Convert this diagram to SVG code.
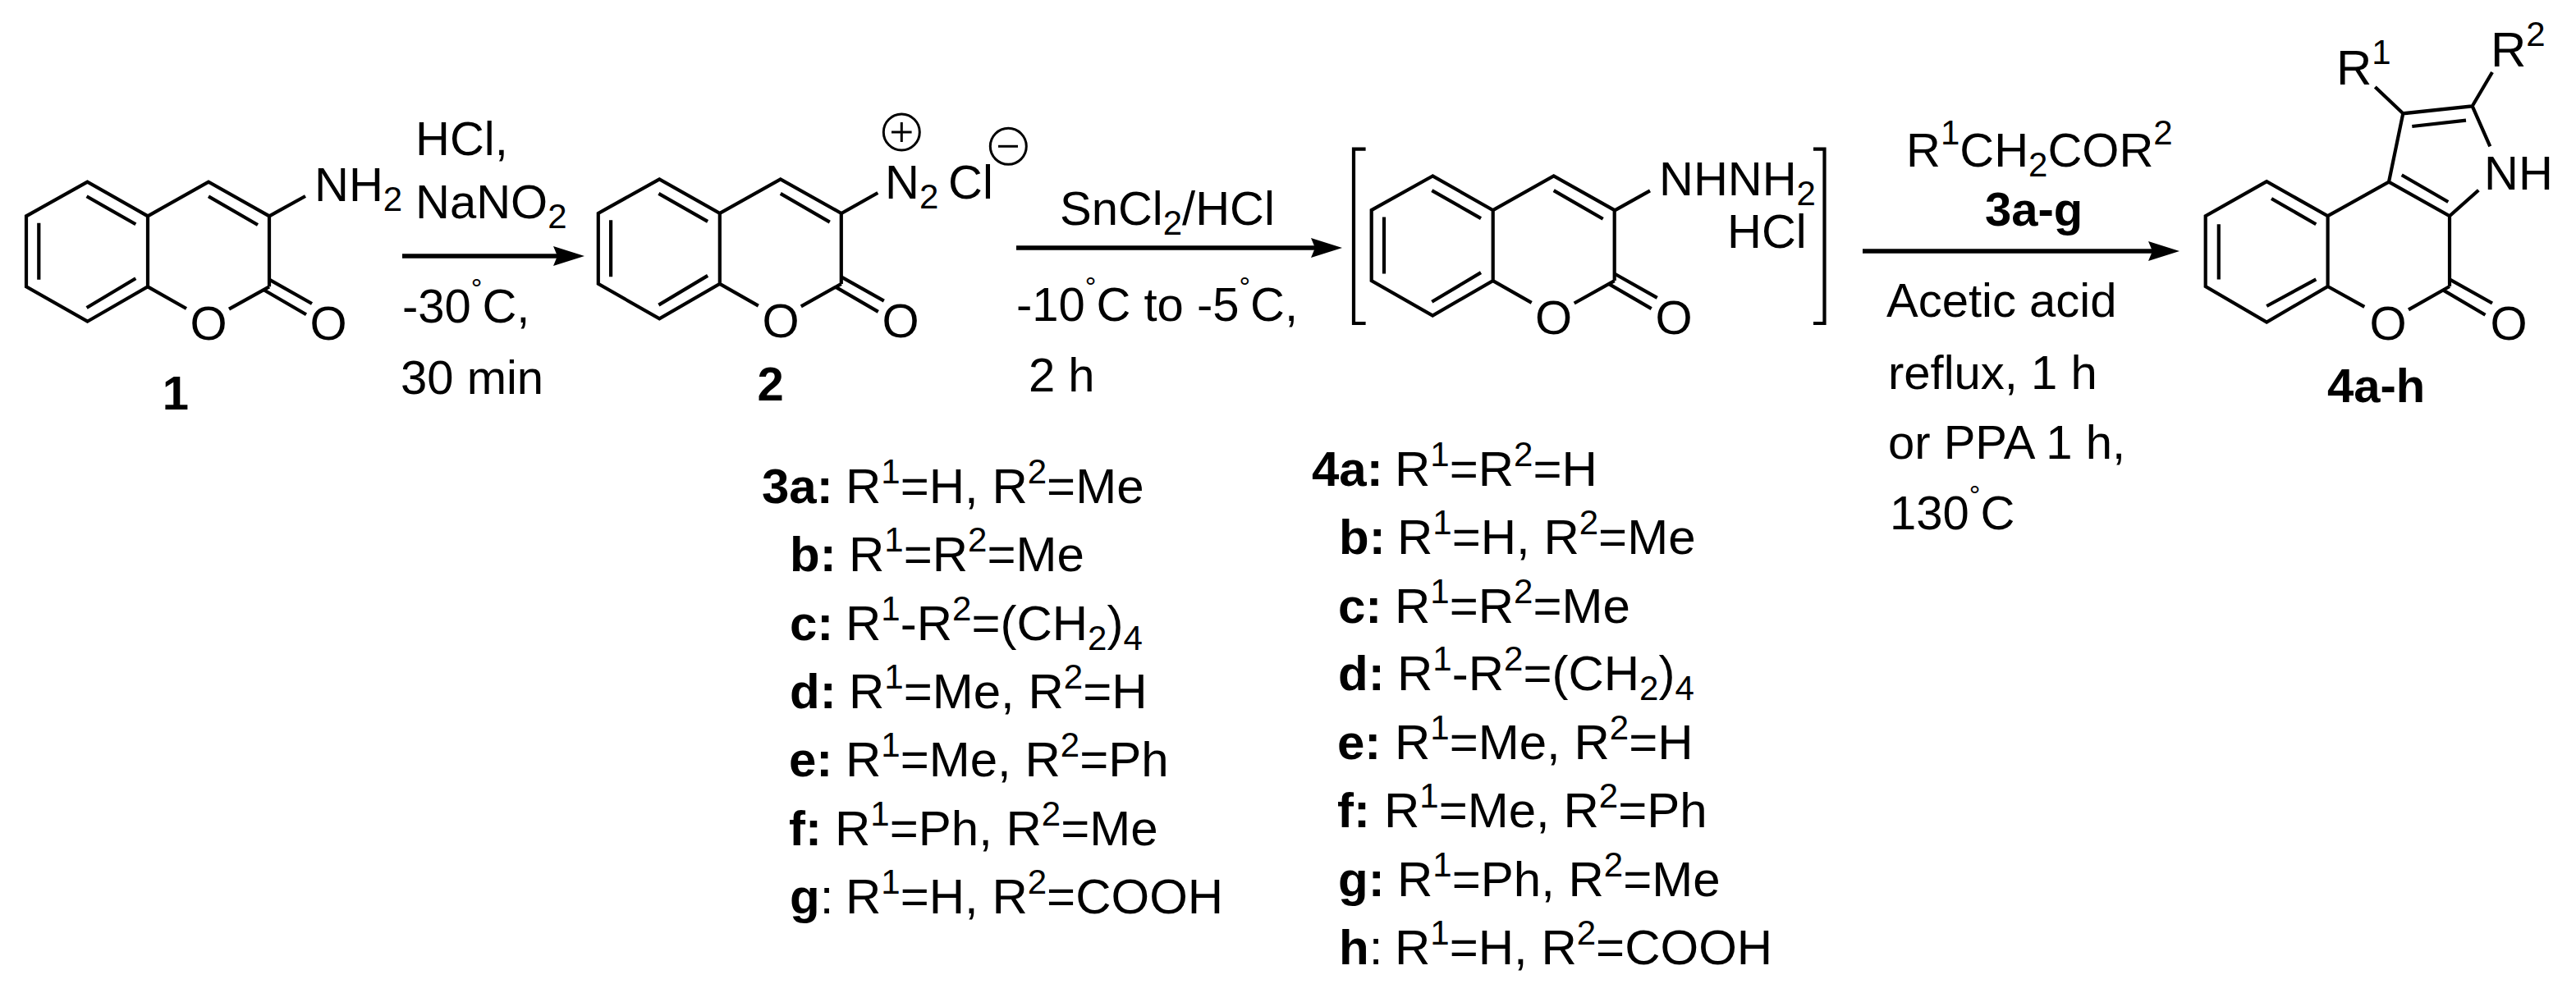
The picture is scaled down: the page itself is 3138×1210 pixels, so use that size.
<svg xmlns="http://www.w3.org/2000/svg" width="3138" height="1210" viewBox="0 0 3138 1210">
<style>
text{font-family:"Liberation Sans",Arial,sans-serif;font-size:58px;fill:#000}
.l text,text.l{font-size:60px}
.b{font-weight:700}
.s{font-size:42px}
.d{font-size:34px}
.m{text-anchor:middle}
.bond{fill:none;stroke:#000;stroke-width:4.2;stroke-linecap:butt;stroke-linejoin:miter}
.arrow{fill:none;stroke:#000;stroke-width:5.5}
.charge{fill:none;stroke:#000;stroke-width:3}
</style>
<defs>
<marker id="head" markerUnits="userSpaceOnUse" markerWidth="38" markerHeight="24" viewBox="0 0 38 24" refX="5" refY="12" orient="auto"><path d="M0 0L38 12L0 24L5 12Z" fill="#000"/></marker>
<g id="coumarin" class="bond">
<path d="M106.5 221.7L32 263.3V349.3L106.5 391.7L180 349.3V263.3ZM180 263.3L254 221.7L328 263.3V349.3M180 349.3L227 376M328 349.3L279 376.7"/>
<path d="M105.6 239.3L165.3 273.3M47.3 271.7V340.7M105.6 375L165.3 339.3M254 239.3L314 274M328 340.7L380 370M321.4 353.3L373 383.3"/>
</g>
</defs>
<rect width="3138" height="1210" fill="#fff"/>
<g id="connectors">
<line class="arrow" x1="490" y1="312" x2="679" y2="312" marker-end="url(#head)"/>
<line class="arrow" x1="1238" y1="302" x2="1602" y2="302" marker-end="url(#head)"/>
<line class="arrow" x1="2269" y1="306" x2="2622" y2="306" marker-end="url(#head)"/>
</g>
<g id="compound-1">
<use href="#coumarin"/>
<path class="bond" d="M328 263.3L372 239"/>
<text x="383" y="245">NH<tspan class="s" dy="12">2</tspan></text>
<text class="m" x="254" y="414">O</text>
<text class="m" x="400" y="414">O</text>
<text class="b m" x="214" y="499">1</text>
</g>
<g id="reagents-1">
<text x="506" y="189">HCl,</text>
<text x="506" y="266">NaNO<tspan class="s" dy="12">2</tspan></text>
<text x="490" y="393">-30<tspan class="d" dy="-30">°</tspan><tspan dy="30">C,</tspan></text>
<text x="488" y="480">30 min</text>
</g>
<g id="compound-2" >
<use href="#coumarin" transform="translate(696.8 -3.4)"/>
<path class="bond" d="M1025 260L1069.3 235"/>
<text x="1078" y="241.7">N<tspan class="s" dy="12">2</tspan></text>
<text x="1155" y="241.7">Cl</text>
<circle class="charge" cx="1098.3" cy="161" r="22"/>
<path class="charge" d="M1086 161H1110.600M1098.300 149V173"/>
<circle class="charge" cx="1228.3" cy="178.3" r="22"/>
<path class="charge" d="M1216 178.3H1240"/>
<text class="m" x="951" y="410.5">O</text>
<text class="m" x="1097" y="410.5">O</text>
<text class="b m" x="938.6" y="488">2</text>
</g>
<g id="reagents-2">
<text x="1291" y="274">SnCl<tspan class="s" dy="12">2</tspan><tspan dy="-12">/HCl</tspan></text>
<text x="1238" y="390.7">-10<tspan class="d" dy="-30">°</tspan><tspan dy="30">C to -5</tspan><tspan class="d" dy="-30">°</tspan><tspan dy="30">C,</tspan></text>
<text x="1253" y="476.7">2 h</text>
</g>
<g id="hydrazine-intermediate">
<path class="bond" d="M1663.6 181.7H1649V394H1663.6M2209 181.7H2222.5V394H2209"/>
<use href="#coumarin" transform="translate(1638.7 -7.2)"/>
<path class="bond" d="M1966.6 256.7L2010 232.3"/>
<text x="2021" y="238">NHNH<tspan class="s" dy="12">2</tspan></text>
<text x="2104" y="302.3">HCl</text>
<text class="m" x="1892.5" y="407">O</text>
<text class="m" x="2039" y="407">O</text>
</g>
<g id="reagents-3">
<text x="2322" y="202.5">R<tspan class="s" dy="-27">1</tspan><tspan dy="27">CH</tspan><tspan class="s" dy="12">2</tspan><tspan dy="-12">COR</tspan><tspan class="s" dy="-27">2</tspan></text>
<text class="b" x="2418" y="275">3a-g</text>
<text x="2298" y="386">Acetic acid</text>
<text x="2300" y="473.6">reflux, 1 h</text>
<text x="2300" y="558.6">or PPA 1 h,</text>
<text x="2302" y="645">130<tspan class="d" dy="-30">°</tspan><tspan dy="30">C</tspan></text>
</g>
<g id="compound-4">
<path class="bond" d="M2761.2 221.2L2686.7 263.2V349L2761.2 392.5L2835.6 349V263.2ZM2835.6 263.2L2910 221.700L2984 263.2V349M2835.6 349L2880.3 373.8M2984 349L2934 377.3M2910 221.700L2927.3 138.3L3011.7 129.3L3033.3 178.3M2984 263.2L3019.3 231.700M2927.3 138.3L2893.3 106M3011.7 129.3L3036 88"/>
<path class="bond" d="M2767 242L2821.3 273.2M2702.8 273.2V340.4M2761.2 373L2821.3 340.4M2938.3 154L3004 146.7M2925.7 213.3L2982.3 246M2984 340.4L3036 369.5M2976 353.4L3027.5 383.8"/>
<text class="l" x="2846" y="102.700">R<tspan class="s" dy="-24.700">1</tspan></text>
<text class="l" x="3034" y="81">R<tspan class="s" dy="-25">2</tspan></text>
<text x="3026" y="231">NH</text>
<text class="m" x="2909" y="414">O</text>
<text class="m" x="3056" y="414">O</text>
<text class="b" x="2835" y="490">4a-h</text>
</g>
<g id="list-3" class="l">
<text class="b" x="928" y="612.7">3a:</text><text x="1030" y="612.7">R<tspan class="s" dy="-24">1</tspan><tspan dy="24">=H, R</tspan><tspan class="s" dy="-24">2</tspan><tspan dy="24">=Me</tspan></text>
<text class="b" x="962" y="695.8">b:</text><text x="1034" y="695.8">R<tspan class="s" dy="-24">1</tspan><tspan dy="24">=R</tspan><tspan class="s" dy="-24">2</tspan><tspan dy="24">=Me</tspan></text>
<text class="b" x="962" y="780">c:</text><text x="1030" y="780">R<tspan class="s" dy="-24">1</tspan><tspan dy="24">-R</tspan><tspan class="s" dy="-24">2</tspan><tspan dy="24">=(CH</tspan><tspan class="s" dy="12">2</tspan><tspan dy="-12">)</tspan><tspan class="s" dy="12">4</tspan></text>
<text class="b" x="962" y="863.4">d:</text><text x="1034" y="863.4">R<tspan class="s" dy="-24">1</tspan><tspan dy="24">=Me, R</tspan><tspan class="s" dy="-24">2</tspan><tspan dy="24">=H</tspan></text>
<text class="b" x="961" y="946.4">e:</text><text x="1030" y="946.4">R<tspan class="s" dy="-24">1</tspan><tspan dy="24">=Me, R</tspan><tspan class="s" dy="-24">2</tspan><tspan dy="24">=Ph</tspan></text>
<text class="b" x="961" y="1029.8">f:</text><text x="1017" y="1029.8">R<tspan class="s" dy="-24">1</tspan><tspan dy="24">=Ph, R</tspan><tspan class="s" dy="-24">2</tspan><tspan dy="24">=Me</tspan></text>
<text x="962" y="1113.3"><tspan class="b">g</tspan>:</text><text x="1030" y="1113.3">R<tspan class="s" dy="-24">1</tspan><tspan dy="24">=H, R</tspan><tspan class="s" dy="-24">2</tspan><tspan dy="24">=COOH</tspan></text>
</g>
<g id="list-4" class="l">
<text class="b" x="1598" y="592">4a:</text><text x="1699" y="592">R<tspan class="s" dy="-24">1</tspan><tspan dy="24">=R</tspan><tspan class="s" dy="-24">2</tspan><tspan dy="24">=H</tspan></text>
<text class="b" x="1631" y="675.3">b:</text><text x="1702" y="675.3">R<tspan class="s" dy="-24">1</tspan><tspan dy="24">=H, R</tspan><tspan class="s" dy="-24">2</tspan><tspan dy="24">=Me</tspan></text>
<text class="b" x="1630" y="758.5">c:</text><text x="1699" y="758.5">R<tspan class="s" dy="-24">1</tspan><tspan dy="24">=R</tspan><tspan class="s" dy="-24">2</tspan><tspan dy="24">=Me</tspan></text>
<text class="b" x="1630" y="841.4">d:</text><text x="1702" y="841.4">R<tspan class="s" dy="-24">1</tspan><tspan dy="24">-R</tspan><tspan class="s" dy="-24">2</tspan><tspan dy="24">=(CH</tspan><tspan class="s" dy="12">2</tspan><tspan dy="-12">)</tspan><tspan class="s" dy="12">4</tspan></text>
<text class="b" x="1629" y="924.6">e:</text><text x="1699" y="924.6">R<tspan class="s" dy="-24">1</tspan><tspan dy="24">=Me, R</tspan><tspan class="s" dy="-24">2</tspan><tspan dy="24">=H</tspan></text>
<text class="b" x="1629" y="1008.3">f:</text><text x="1686" y="1008.3">R<tspan class="s" dy="-24">1</tspan><tspan dy="24">=Me, R</tspan><tspan class="s" dy="-24">2</tspan><tspan dy="24">=Ph</tspan></text>
<text class="b" x="1630" y="1091.6">g:</text><text x="1702" y="1091.6">R<tspan class="s" dy="-24">1</tspan><tspan dy="24">=Ph, R</tspan><tspan class="s" dy="-24">2</tspan><tspan dy="24">=Me</tspan></text>
<text x="1631" y="1175.3"><tspan class="b">h</tspan>:</text><text x="1699" y="1175.3">R<tspan class="s" dy="-24">1</tspan><tspan dy="24">=H, R</tspan><tspan class="s" dy="-24">2</tspan><tspan dy="24">=COOH</tspan></text>
</g>
</svg>
